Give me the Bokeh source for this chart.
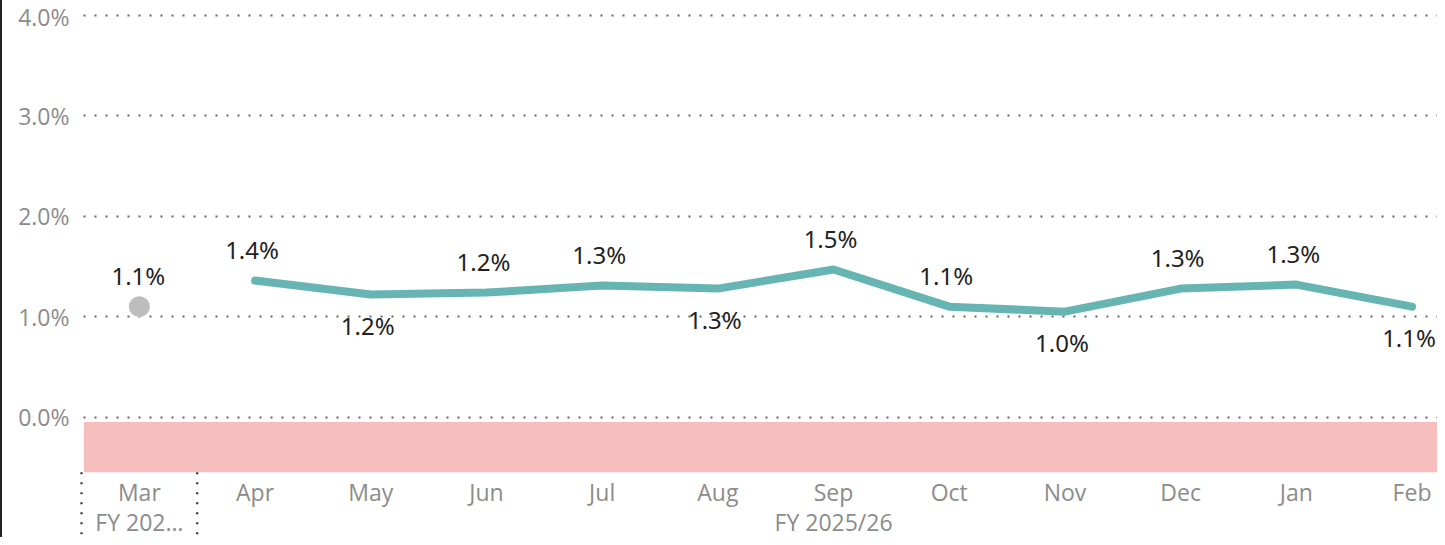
from bokeh.plotting import figure
from bokeh.models import Range1d, FixedTicker, PrintfTickFormatter, ColumnDataSource, Div
from bokeh.layouts import row
from bokeh.core.properties import value
from bokeh.embed import file_html
from bokeh.resources import INLINE

# ---- data ----
months = ["Mar", "Apr", "May", "Jun", "Jul", "Aug", "Sep", "Oct", "Nov", "Dec", "Jan", "Feb"]
prev_year_months = ["Mar"]
prev_year_values = [1.10]
prev_year_labels = ["1.1%"]
cur_year_months = ["Apr", "May", "Jun", "Jul", "Aug", "Sep", "Oct", "Nov", "Dec", "Jan", "Feb"]
cur_year_values = [1.36, 1.22, 1.24, 1.31, 1.28, 1.47, 1.10, 1.05, 1.28, 1.32, 1.10]
cur_year_labels = ["1.4%", "1.2%", "1.2%", "1.3%", "1.3%", "1.5%", "1.1%", "1.0%", "1.3%", "1.3%", "1.1%"]
cur_label_place = ["above", "below", "above", "above", "below", "above", "above", "below", "above", "above", "below"]
groups = ["FY 202\u2026", "FY 2025/26"]
group_members = [prev_year_months, cur_year_months]
y_ticks = [0, 1, 2, 3, 4]
neg_zone = (-0.05, -0.55)

pos = {m: i + 0.5 for i, m in enumerate(months)}

AX_FONT = "Open Sans"
AX_SIZE = "23px"
AX_COLOR = "#8c8c8c"
LBL_FONT = "Noto Sans"
LBL_SIZE = "24px"

p = figure(width=1435, height=537, output_backend="svg", toolbar_location=None,
           x_range=Range1d(-0.026, 11.72), y_range=Range1d(-1.2, 4.15),
           x_axis_type=None, min_border_left=76, min_border_right=0,
           min_border_top=0, min_border_bottom=0, margin=0)
p.outline_line_color = None
p.background_fill_color = "white"
p.border_fill_color = "white"

# y axis
ya = p.yaxis[0]
ya.ticker = FixedTicker(ticks=y_ticks)
ya.formatter = PrintfTickFormatter(format="%.1f%%")
ya.axis_line_color = None
ya.major_tick_line_color = None
ya.minor_tick_line_color = None
ya.major_label_text_color = AX_COLOR
ya.major_label_text_font = AX_FONT
ya.major_label_text_font_size = AX_SIZE
ya.major_label_standoff = 3

p.xgrid.visible = False
p.ygrid.ticker = FixedTicker(ticks=y_ticks)
p.ygrid.grid_line_color = "#666666"
p.ygrid.grid_line_dash = "2 9"
p.ygrid.grid_line_dash_offset = 6
p.ygrid.grid_line_width = 2

# negative zone
p.quad(left=[0.02], right=[p.x_range.end], top=[neg_zone[0]], bottom=[neg_zone[1]],
       fill_color="#f6bdbd", line_color=None)

# current year line
xs = [pos[m] for m in cur_year_months]
p.line(xs, cur_year_values, line_color="#67b5b2", line_width=8, line_cap="round", line_join="round")

# previous year dot
p.scatter([pos[m] for m in prev_year_months], prev_year_values, size=21,
          fill_color="#bdbdbd", line_color=None)

# data labels
offs = [-31 if s == "above" else 31 for s in cur_label_place]
src = ColumnDataSource(dict(x=xs, y=cur_year_values, t=cur_year_labels, o=offs))
p.text(x="x", y="y", text="t", y_offset="o", x_offset=-3, source=src, text_align="center",
       text_baseline="middle", text_font=value(LBL_FONT), text_font_size=LBL_SIZE,
       text_color="#222222")
p.text(x=[pos[m] for m in prev_year_months], y=prev_year_values, text=prev_year_labels,
       y_offset=-31, x_offset=-1, text_align="center", text_baseline="middle",
       text_font=value(LBL_FONT), text_font_size=LBL_SIZE, text_color="#222222")

# category labels (x axis)
p.text(x=[pos[m] for m in months], y=[-0.75] * len(months), text=months,
       text_align="center", text_baseline="middle", text_font=value(AX_FONT),
       text_font_size=AX_SIZE, text_color=AX_COLOR)
gx = [(pos[g[0]] + pos[g[-1]]) / 2 for g in group_members]
p.text(x=gx, y=[-1.05] * len(groups), text=groups, text_align="center",
       text_baseline="middle", text_font=value(AX_FONT), text_font_size=AX_SIZE,
       text_color=AX_COLOR)

# group separators
sep_x = [pos[g[0]] - 0.5 for g in group_members]
p.segment(x0=sep_x, x1=sep_x, y0=[neg_zone[1]] * len(sep_x), y1=[p.y_range.start] * len(sep_x),
          line_color="#333333", line_width=2.2, line_dash="2 8")

edge = Div(width=2, height=537, margin=0, styles={"background-color": "#222222"})
layout = row(edge, p, spacing=0)

open("out.html", "w").write(file_html(layout, INLINE))
